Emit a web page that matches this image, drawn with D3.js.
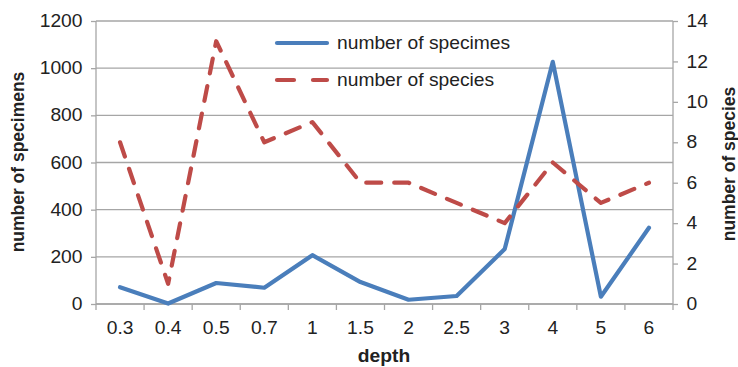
<!DOCTYPE html>
<html><head><meta charset="utf-8">
<script src="https://cdn.jsdelivr.net/npm/d3@7"></script>
<style>body{margin:0;background:#fff}svg{display:block;font-family:"Liberation Sans",Arial,sans-serif}</style>
</head><body><svg id="c" width="738" height="367"></svg>
<script>
const depths = ["0.3","0.4","0.5","0.7","1","1.5","2","2.5","3","4","5","6"];
const specimens = [71, 2, 89, 69, 207, 93, 18, 34, 233, 1027, 31, 323];
const species = [8, 1, 13, 8, 9, 6, 6, 5, 4, 7, 5, 6];
const leftTicks = [0,200,400,600,800,1000,1200];
const rightTicks = [0,2,4,6,8,10,12,14];

const FS = 17.5, SX = 1.1, TXT = "#222";
const svg = d3.select("#c");
const L=96, R=673, T=21, B=304;
const x = d3.scaleBand().domain(depths).range([L,R]);
const yL = d3.scaleLinear().domain([0,1200]).range([B,T]);
const yR = d3.scaleLinear().domain([0,14]).range([B,T]);

// gridlines
svg.append("g").selectAll("line").data(leftTicks).join("line")
  .attr("x1",L).attr("x2",R).attr("y1",d=>yL(d)).attr("y2",d=>yL(d))
  .attr("stroke","#a6a6a6").attr("stroke-width",1.3);
// axes
const gL = svg.append("g").attr("transform",`translate(${L},0)`)
  .call(d3.axisLeft(yL).tickValues(leftTicks).tickFormat(d3.format("d")).tickSize(5).tickPadding(8.5));
const gR = svg.append("g").attr("transform",`translate(${R},0)`)
  .call(d3.axisRight(yR).tickValues(rightTicks).tickFormat(d3.format("d")).tickSize(5).tickPadding(8.5));
const gB = svg.append("g").attr("transform",`translate(0,${B})`)
  .call(d3.axisBottom(x).tickSize(0).tickPadding(18));
gB.append("g").selectAll("line").data(d3.range(depths.length+1)).join("line")
  .attr("x1",i=>L+i*x.step()).attr("x2",i=>L+i*x.step()).attr("y1",0).attr("y2",6)
  .attr("stroke","#a6a6a6").attr("stroke-width",1.3);
[gL,gR,gB].forEach(g=>{
  g.selectAll(".domain").attr("stroke","#a6a6a6").attr("stroke-width",1.3);
  g.selectAll(".tick line").attr("stroke","#a6a6a6").attr("stroke-width",1.3);
  g.selectAll(".tick text").attr("font-size",FS).attr("fill",TXT)
    .attr("font-family","'Liberation Sans',Arial,sans-serif")
    .each(function(){
      const t = d3.select(this);
      const xv = +(t.attr("x")||0);
      t.attr("x", xv/SX).attr("transform",`scale(${SX},1)`);
    });
});
gL.select(".domain").attr("d",`M0,${B}V${T}`);
gR.select(".domain").attr("d",`M0,${B}V${T}`);
gB.select(".domain").attr("d",`M${L},0H${R}`);

const cx = d=>x(d)+x.bandwidth()/2;
svg.append("path").datum(specimens.map((v,i)=>[cx(depths[i]),yL(v)]))
  .attr("d",d3.line()).attr("fill","none").attr("stroke","#4a7ebb").attr("stroke-width",4.2)
  .attr("stroke-linejoin","round").attr("stroke-linecap","round");
svg.append("path").datum(species.map((v,i)=>[cx(depths[i]),yR(v)]))
  .attr("d",d3.line()).attr("fill","none").attr("stroke","#be4b48").attr("stroke-width",4.2)
  .attr("stroke-dasharray","15,13").attr("stroke-linecap","round").attr("stroke-linejoin","round");

// titles
function txt(tr, s, opts={}){
  const t = svg.append("text").attr("transform",tr).attr("font-size",FS).attr("fill",TXT)
    .attr("text-anchor",opts.anchor||"start").text(s);
  if(opts.bold) t.attr("font-weight","bold");
  return t;
}
txt(`translate(384,362) scale(${SX},1)`,"depth",{anchor:"middle",bold:true});
txt(`translate(24,162) rotate(-90) scale(1,${SX})`,"number of specimens",{anchor:"middle",bold:true});
txt(`translate(735,164) rotate(-90) scale(1,${SX})`,"number of species",{anchor:"middle",bold:true});

// legend
const legNames = ["number of specimes","number of species"];
const legColors = ["#4a7ebb","#be4b48"];
const legDash = [null,"17,19"];
const legY = [43,80];
legNames.forEach((n,i)=>{
  svg.append("line").attr("x1",277).attr("x2",327).attr("y1",legY[i]).attr("y2",legY[i])
    .attr("stroke",legColors[i]).attr("stroke-width",4.2).attr("stroke-linecap","round")
    .attr("stroke-dasharray",legDash[i]);
  txt(`translate(337,${legY[i]+6}) scale(${SX},1)`, n);
});
</script></body></html>
